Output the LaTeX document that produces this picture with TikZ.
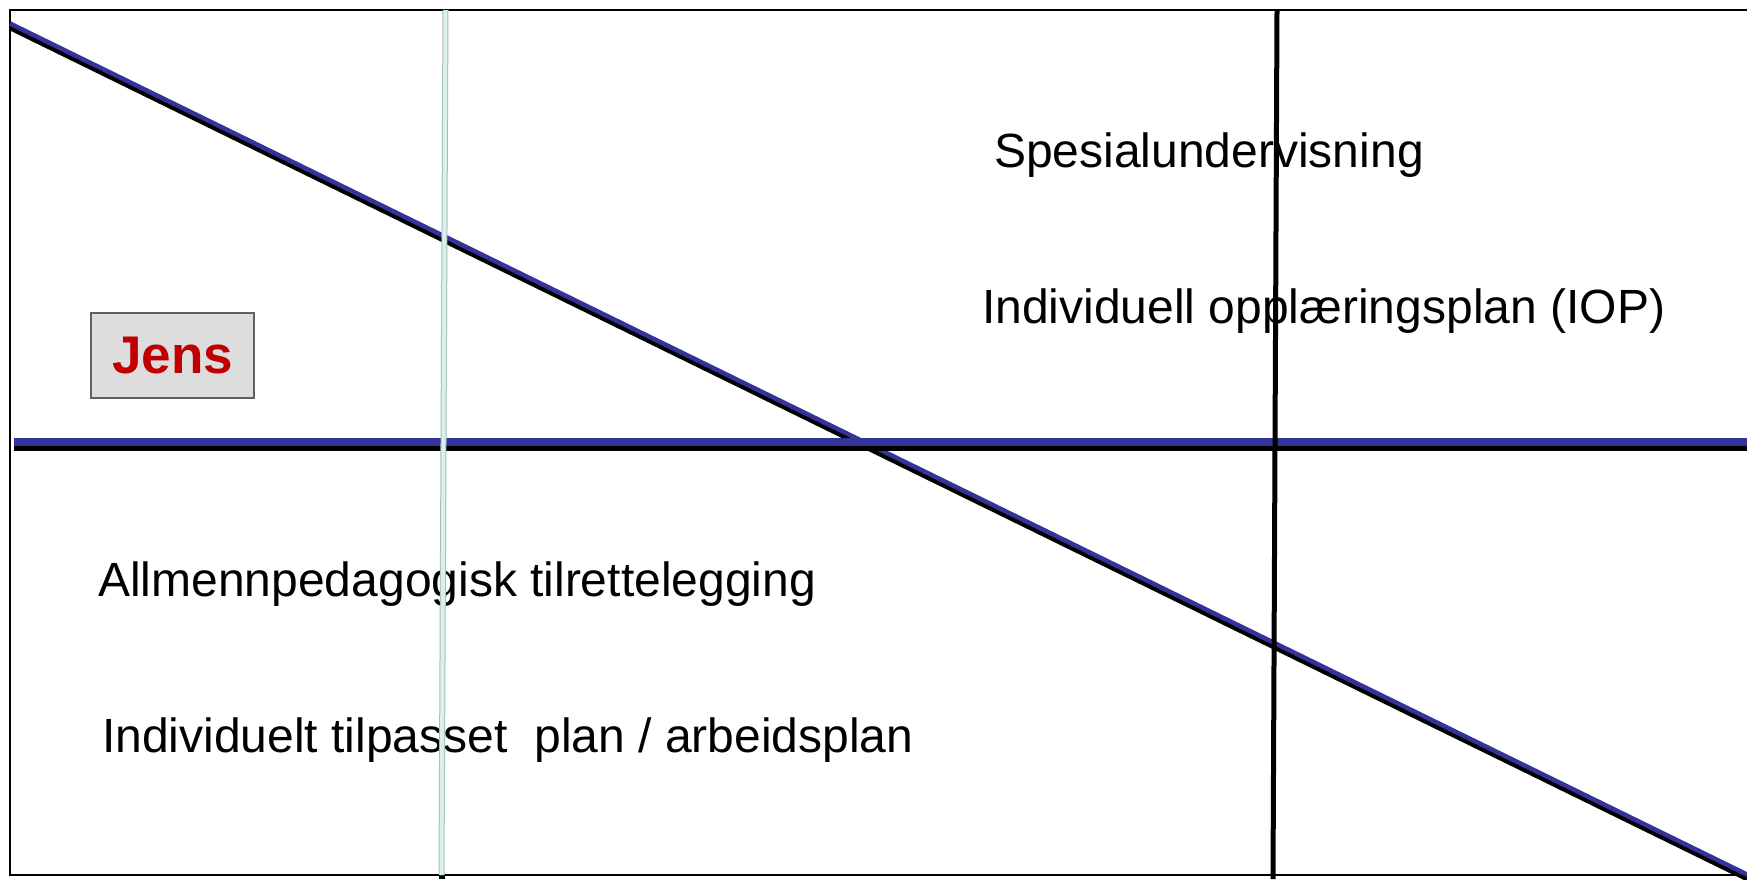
\documentclass[tikz,border=0pt]{standalone}
\usepackage{fontspec}
\setmainfont{Liberation Sans}
\definecolor{lineblue}{HTML}{333399}
\definecolor{paleline}{HTML}{DCEFEF}
\definecolor{paleedge}{HTML}{A9BDBD}
\definecolor{jensred}{HTML}{C00000}
\definecolor{boxgray}{HTML}{DDDDDD}
\definecolor{boxedge}{HTML}{606060}
\tikzset{
  lbl/.style={anchor=base west, inner sep=0pt, font=\fontsize{48}{56}\selectfont},
  jensbox/.style={draw=boxedge, line width=1.5pt, fill=boxgray, minimum width=163pt, minimum height=85pt, inner sep=0pt,
     text=jensred, font=\fontsize{53}{60}\selectfont\bfseries},
  frameline/.style={line width=2pt, black},
}
\begin{document}
\begin{tikzpicture}[x=1pt,y=-1pt]
\useasboundingbox (0,0) rectangle (1747,879);
\fill[white] (0,0) rectangle (1747,879);
% frame
\draw[frameline] (1747,10) -- (10,10) -- (10,875) -- (1747,875);
% texts
\node[lbl] (spes) at (994,167) {Spesialundervisning};
\node[lbl] (iop) at (982,323) {Individuell opplæringsplan (IOP)};
\node[lbl] (allm) at (98,596) {Allmennpedagogisk tilrettelegging};
\node[lbl] (itp) at (102,752) {Individuelt tilpasset\ \ plan / arbeidsplan};
\node[jensbox] (jens) at (172.5,355.5) {Jens};
% diagonal line with black shadow
\coordinate (dA) at (10,23.5);
\coordinate (dB) at (1747,874.5);
\draw[black, line width=4.5pt] ([yshift=-4.5pt]dA) -- ([yshift=-4.5pt]dB);
\draw[lineblue, line width=4.5pt] (dA) -- (dB);
% horizontal line with black shadow
\coordinate (hA) at (14,442);
\coordinate (hB) at (1747,442);
\draw[black, line width=6pt] ([yshift=-6pt]hA) -- ([yshift=-6pt]hB);
\draw[lineblue, line width=8pt] (hA) -- (hB);
% pale vertical line
\coordinate (pT) at (445.5,10);
\coordinate (pB) at (441.5,875);
\fill[black] (438.5,874) rectangle (444.5,879);
\draw[paleedge, line width=6pt] (pT) -- (pB);
\draw[paleline, line width=4pt] (pT) -- (pB);
% black vertical line
\coordinate (vT) at (1277,10);
\coordinate (vB) at (1273,879);
\draw[black, line width=5pt] (vT) -- (vB);
\end{tikzpicture}
\end{document}
